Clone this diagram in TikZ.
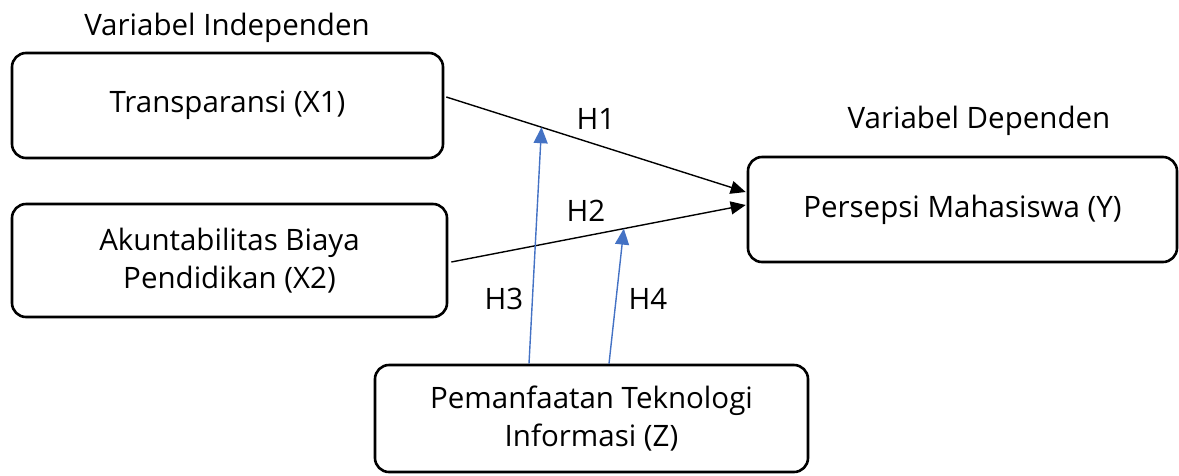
\documentclass[tikz,border=0pt]{standalone}
\usepackage{fontspec}
\setmainfont{Open Sans}
\usetikzlibrary{arrows.meta,calc}
\definecolor{hblue}{RGB}{68,114,196}
\begin{document}
\begin{tikzpicture}[x=1pt,y=-1pt,
  box/.style={draw,line width=2.6pt,rounded corners=14pt,align=center,inner sep=0pt,font=\fontsize{29.5}{38}\selectfont},
  lbl/.style={font=\fontsize{29.5}{34}\selectfont,inner sep=0pt},
  blk/.style={line width=1.4pt,-{Triangle[length=15pt,width=13pt]}},
  blu/.style={hblue,line width=1.4pt,-{Triangle[length=16pt,width=14pt]}}]
\useasboundingbox (0,0) rectangle (1179,475);
\node[box,minimum width=431pt,minimum height=105pt] (X1) at (227.5,105.5) {Transparansi (X1)};
\node[box,minimum width=435pt,minimum height=113pt] (X2) at (229.5,260.5) {Akuntabilitas Biaya\\Pendidikan (X2)};
\node[box,minimum width=429pt,minimum height=105pt] (Y) at (962.5,209.5) {Persepsi Mahasiswa (Y)};
\node[box,minimum width=433pt,minimum height=107pt] (Z) at (591.5,418.5) {Pemanfaatan Teknologi\\Informasi (Z)};
\node[lbl] (tI) at (227,28) {Variabel Independen};
\node[lbl] (tD) at (979,121) {Variabel Dependen};
\node[lbl] (h1) at (596,119) {H1};
\node[lbl] (h2) at (586,211) {H2};
\node[lbl] (h3) at (504,299) {H3};
\node[lbl] (h4) at (648,299) {H4};
\draw[blk] ($(X1.east)+(2,-8.5)$) -- coordinate[pos=0.318] (m1) ($(Y.west)+(-1,-17.5)$);
\draw[blk] ($(X2.east)+(3,1.5)$) -- coordinate[pos=0.586] (m2) ($(Y.west)+(-1,-4.5)$);
\draw[blu] ($(Z.north)+(-62.5,0)$) -- (m1);
\draw[blu] ($(Z.north)+(17.5,0)$) -- (m2);
\end{tikzpicture}
\end{document}
